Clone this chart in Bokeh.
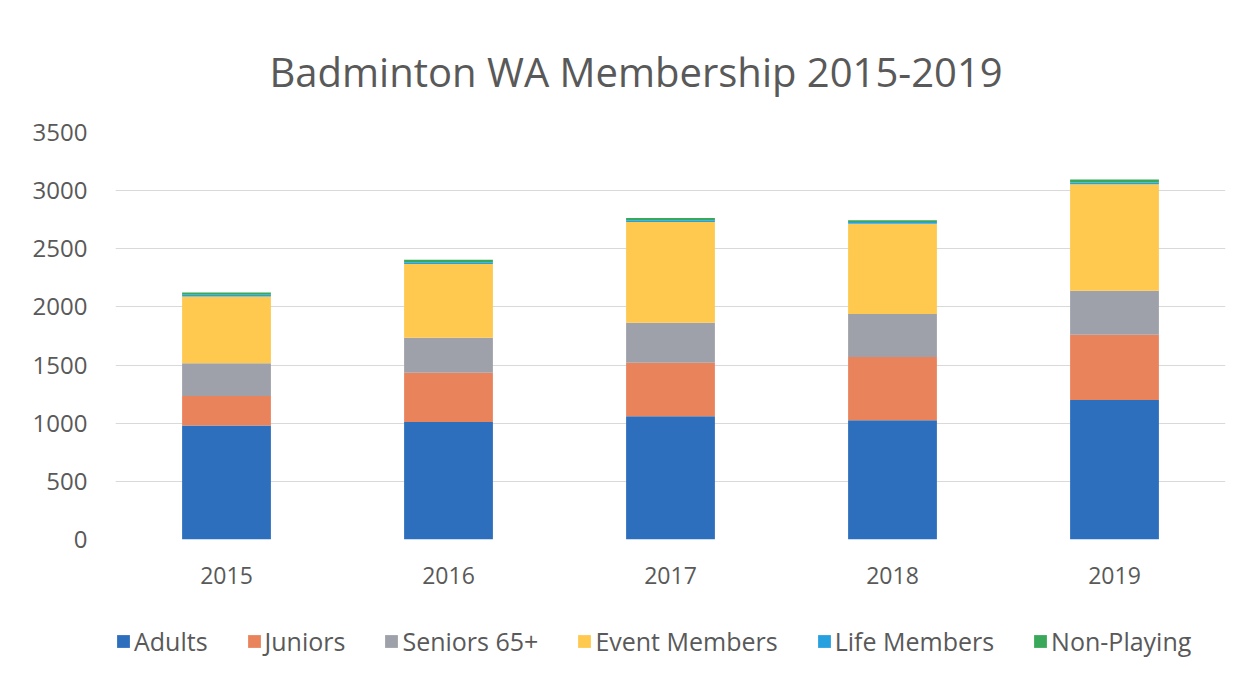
from bokeh.plotting import figure
from bokeh.layouts import column
from bokeh.models import ColumnDataSource, Legend, LegendItem, FixedTicker, Range1d, FactorRange
from bokeh.embed import file_html
from bokeh.resources import INLINE

years = ["2015", "2016", "2017", "2018", "2019"]
adults = [980, 1010, 1060, 1025, 1200]
juniors = [255, 425, 460, 545, 560]
seniors = [280, 300, 345, 370, 380]
event_members = [575, 635, 865, 775, 915]
life_members = [15, 15, 15, 15, 15]
non_playing = [20, 20, 20, 15, 25]

series = ["Adults", "Juniors", "Seniors 65+", "Event Members", "Life Members", "Non-Playing"]
keys = ["adults", "juniors", "seniors", "event", "life", "nonplay"]
colors = ["#2d6fbd", "#e9835c", "#9fa1aa", "#ffc94f", "#27a0e0", "#3aa85a"]

src = ColumnDataSource(dict(years=years, adults=adults, juniors=juniors, seniors=seniors,
                            event=event_members, life=life_members, nonplay=non_playing))

TXT = "#595959"
FONT = "Open Sans"

p = figure(x_range=FactorRange(*years, range_padding=0), y_range=Range1d(0, 3500),
           width=1255, height=600, output_backend="svg", toolbar_location=None,
           min_border_left=115, min_border_right=30, min_border_top=132, min_border_bottom=61)

renderers = p.vbar_stack(keys, x="years", width=0.4, source=src, color=colors, line_color=None)

p.title.text = "Badminton WA Membership 2015-2019"
p.title.align = "left"
p.title.offset = 154
p.title.text_font = FONT
p.title.text_font_size = "40px"
p.title.text_font_style = "normal"
p.title.text_color = TXT
p.title.standoff = 67

p.yaxis.ticker = FixedTicker(ticks=[0, 500, 1000, 1500, 2000, 2500, 3000, 3500])
for ax in (p.xaxis, p.yaxis):
    ax.axis_line_color = None
    ax.major_tick_line_color = None
    ax.minor_tick_line_color = None
    ax.major_label_text_font = FONT
    ax.major_label_text_color = TXT
p.yaxis.major_label_text_font_size = "24px"
p.xaxis.major_label_text_font_size = "23px"
p.yaxis.major_label_standoff = 22
p.xaxis.major_label_standoff = 21

p.xgrid.grid_line_color = None
p.ygrid.grid_line_color = "#d9d9d9"
p.ygrid.grid_line_width = 1
p.outline_line_color = None

# legend strip below the chart (legend handles are zero-size proxies)
lg = figure(width=1255, height=85, output_backend="svg", toolbar_location=None,
            x_range=Range1d(0, 1), y_range=Range1d(0, 1), x_axis_type=None, y_axis_type=None,
            min_border=0)
lg.xgrid.grid_line_color = None
lg.ygrid.grid_line_color = None
lg.outline_line_color = None
proxy_src = ColumnDataSource(dict(x=[0.5], top=[0.0]))
proxies = [lg.vbar(x="x", top="top", width=0, source=proxy_src, color=c, line_color=None)
           for c in colors]

legend = Legend(items=[LegendItem(label=s, renderers=[r]) for s, r in zip(series, proxies)],
                orientation="horizontal", location=(0, 27),
                label_text_font=FONT, label_text_font_size="25px", label_text_color=TXT,
                glyph_width=16, glyph_height=16, spacing=38, label_standoff=3,
                border_line_color=None, background_fill_alpha=0, margin=0, padding=0)
lg.add_layout(legend, "center")

layout = column(p, lg, spacing=0)
open("out.html", "w").write(file_html(layout, INLINE))
